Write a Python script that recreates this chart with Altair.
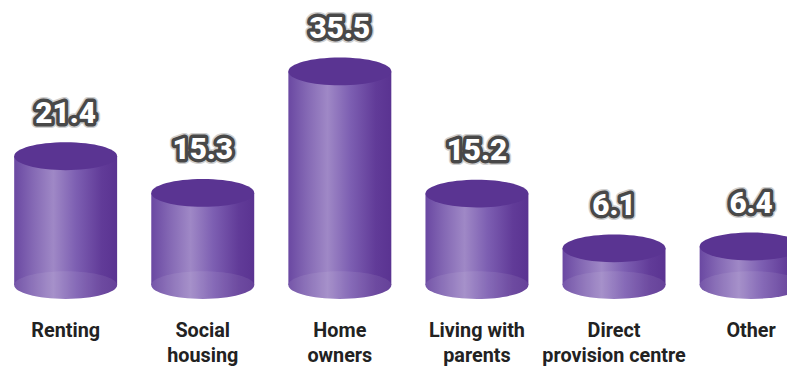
import altair as alt
import pandas as pd

categories = ["Renting", "Social housing", "Home owners", "Living with parents",
              "Direct provision centre", "Other"]
values = [21.4, 15.3, 35.5, 15.2, 6.1, 6.4]
label_text = ["Renting", "Social\nhousing", "Home\nowners", "Living with\nparents",
              "Direct\nprovision centre", "Other"]
value_text = ["21.4", "15.3", "35.5", "15.2", "6.1", "6.4"]

df = pd.DataFrame({"cat": categories, "val": values, "lab": label_text, "vtxt": value_text})

W, H = 787, 361
BAR_W = 104
ELL = "M -1 0 C -1 -0.149 -0.552 -0.27 0 -0.27 C 0.552 -0.27 1 -0.149 1 0 C 1 0.149 0.552 0.27 0 0.27 C -0.552 0.27 -1 0.149 -1 0 Z"
SIZE = BAR_W * BAR_W

xs = alt.Scale(domain=categories, range=[-2, 811], paddingInner=0.13, paddingOuter=0)
ys = alt.Scale(domain=[-13.65, 45.73], nice=False, zero=False)

X = alt.X("cat:N", scale=xs, axis=None, sort=categories)
Y = alt.Y("val:Q", scale=ys, axis=None)

grad = alt.Gradient(
    gradient="linear", x1=0, x2=1, y1=0, y2=0,
    stops=[
        alt.GradientStop(offset=0.0, color="#6a48a2"),
        alt.GradientStop(offset=0.18, color="#8468b4"),
        alt.GradientStop(offset=0.38, color="#9f88c6"),
        alt.GradientStop(offset=0.6, color="#7d5fb2"),
        alt.GradientStop(offset=0.85, color="#613b98"),
        alt.GradientStop(offset=1.0, color="#5a3391"),
    ],
)

base = alt.Chart(df)

bottom = base.mark_point(shape=ELL, size=SIZE, filled=True, fill=grad, opacity=1, strokeWidth=0).encode(
    x=X, y=alt.Y("zero:Q", scale=ys, axis=None)
).transform_calculate(zero="0")

body = base.mark_bar(size=BAR_W, color=grad).encode(
    x=X, y=Y, y2=alt.datum(0)
)

bottom_glow = base.mark_point(shape=ELL, size=SIZE, filled=True, fill="white", opacity=0.08, strokeWidth=0).encode(
    x=X, y=alt.Y("zero:Q", scale=ys, axis=None)
).transform_calculate(zero="0")

top = base.mark_point(shape=ELL, size=SIZE, filled=True, fill="#5a3492", opacity=1, strokeWidth=0).encode(
    x=X, y=Y
)

txt_common = dict(font="Roboto", fontSize=30, fontWeight=900, baseline="alphabetic", align="center", dy=-34)
halo = base.mark_text(stroke="#d0d0d0", strokeWidth=10, strokeJoin="round", fill="#d0d0d0", **txt_common).encode(
    x=X, y=Y, text="vtxt:N")
outline = base.mark_text(stroke="#484848", strokeWidth=7, strokeJoin="round", fill="#484848", **txt_common).encode(
    x=X, y=Y, text="vtxt:N")
fill = base.mark_text(fill="white", **txt_common).encode(x=X, y=Y, text="vtxt:N")

cat_labels = base.mark_text(font="Roboto", fontSize=20, fontWeight="bold", color="#222222",
                            baseline="alphabetic", align="center", lineBreak="\n", lineHeight=25).encode(
    x=X, y=alt.value(331), text="lab:N")

chart = alt.layer(bottom, body, bottom_glow, top, halo, outline, fill, cat_labels).properties(
    width=W, height=H, padding=0, autosize=alt.AutoSizeParams(type="none"), background="white"
).configure_view(stroke=None)

chart.save("out.html", embed_options={"renderer": "svg", "actions": False})
